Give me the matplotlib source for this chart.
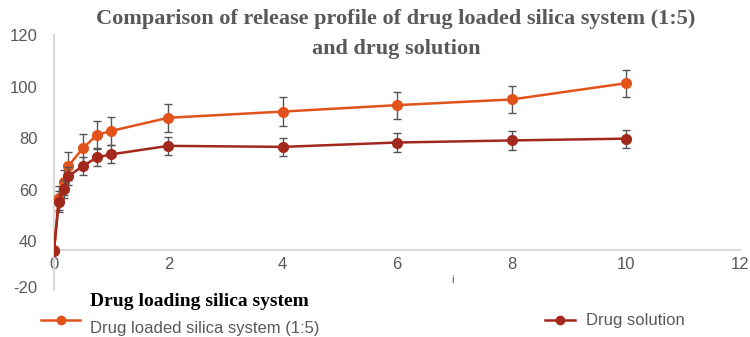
import matplotlib.pyplot as plt
from matplotlib.lines import Line2D

# release profile data (time in h, cumulative release %)
time_h = [0, 0.083, 0.167, 0.25, 0.5, 0.75, 1, 2, 4, 6, 8, 10]
silica_release = [36.5, 56.8, 62.8, 69.1, 76.0, 81.2, 82.8, 87.9, 90.3, 92.8, 95.0, 101.3]
silica_err = [0, 4.5, 5.0, 5.5, 5.5, 5.5, 5.5, 5.5, 5.5, 5.2, 5.4, 5.3]
solution_release = [36.2, 55.3, 60.1, 65.2, 69.1, 72.5, 73.7, 77.0, 76.6, 78.3, 79.1, 79.8]
solution_err = [0, 4.0, 3.5, 3.5, 3.5, 3.5, 3.5, 3.5, 3.5, 3.5, 3.6, 3.5]

ytick_vals = [22.1, 40, 60, 80, 100, 120]
ytick_labels = ['-20', '40', '60', '80', '100', '120']
xtick_vals = [0, 2, 4, 6, 8, 10, 12]

orange = '#e2531b'
darkred = '#a3281c'
grey_txt = '#595959'

fig = plt.figure(figsize=(7.5, 3.37), dpi=100)
ax = fig.add_axes([0.072, 0.139, 0.915, 0.757])

ax.errorbar(time_h, silica_release, yerr=silica_err, color=orange, marker='o', ms=7,
            lw=1.8, ecolor='#555555', elinewidth=1, capsize=3, capthick=1, zorder=3)
ax.errorbar(time_h, solution_release, yerr=solution_err, color=darkred, marker='o', ms=7,
            lw=1.8, ecolor='#555555', elinewidth=1, capsize=3, capthick=1, zorder=4)

ax.set_xlim(0, 12)
ax.set_ylim(21, 120)
ax.set_xticks(xtick_vals)
ax.set_yticks(ytick_vals)
ax.set_yticklabels(ytick_labels)

for side in ['top', 'right']:
    ax.spines[side].set_visible(False)
ax.spines['left'].set_color('#d9d9d9')
ax.spines['left'].set_linewidth(1.5)
ax.spines['bottom'].set_position(('data', 36.5))
ax.spines['bottom'].set_color('#d9d9d9')
ax.spines['bottom'].set_linewidth(1.5)
ax.tick_params(axis='y', length=0, labelsize=12, labelcolor=grey_txt, pad=12)
ax.tick_params(axis='x', length=0, labelsize=12, labelcolor=grey_txt, pad=5)
for lbl in ax.get_xticklabels() + ax.get_yticklabels():
    lbl.set_family('Liberation Sans')

fig.text(0.528, 0.945, 'Comparison of release profile of drug loaded silica system (1:5)',
         ha='center', va='center', family='Liberation Serif', weight='bold', size=16, color=grey_txt)
fig.text(0.528, 0.855, 'and drug solution',
         ha='center', va='center', family='Liberation Serif', weight='bold', size=16, color=grey_txt)
fig.text(0.603, 0.17, 'i', ha='center', va='center', family='Liberation Sans', size=8, color=grey_txt)

# legend area
fig.text(0.12, 0.105, 'Drug loading silica system', ha='left', va='center',
         family='Liberation Serif', weight='bold', size=14, color='black')
fig.add_artist(Line2D([0.055, 0.107], [0.05, 0.05], color=orange, lw=1.8,
                      transform=fig.transFigure))
fig.add_artist(Line2D([0.081], [0.05], color=orange, marker='o', ms=6,
                      transform=fig.transFigure))
fig.text(0.12, 0.025, 'Drug loaded silica system (1:5)', ha='left', va='center',
         family='Liberation Sans', size=12, color=grey_txt)
fig.add_artist(Line2D([0.727, 0.767], [0.05, 0.05], color=darkred, lw=1.8,
                      transform=fig.transFigure))
fig.add_artist(Line2D([0.747], [0.05], color=darkred, marker='o', ms=6,
                      transform=fig.transFigure))
fig.text(0.782, 0.05, 'Drug solution', ha='left', va='center',
         family='Liberation Sans', size=12, color=grey_txt)

fig.savefig('out.png', dpi=100)
